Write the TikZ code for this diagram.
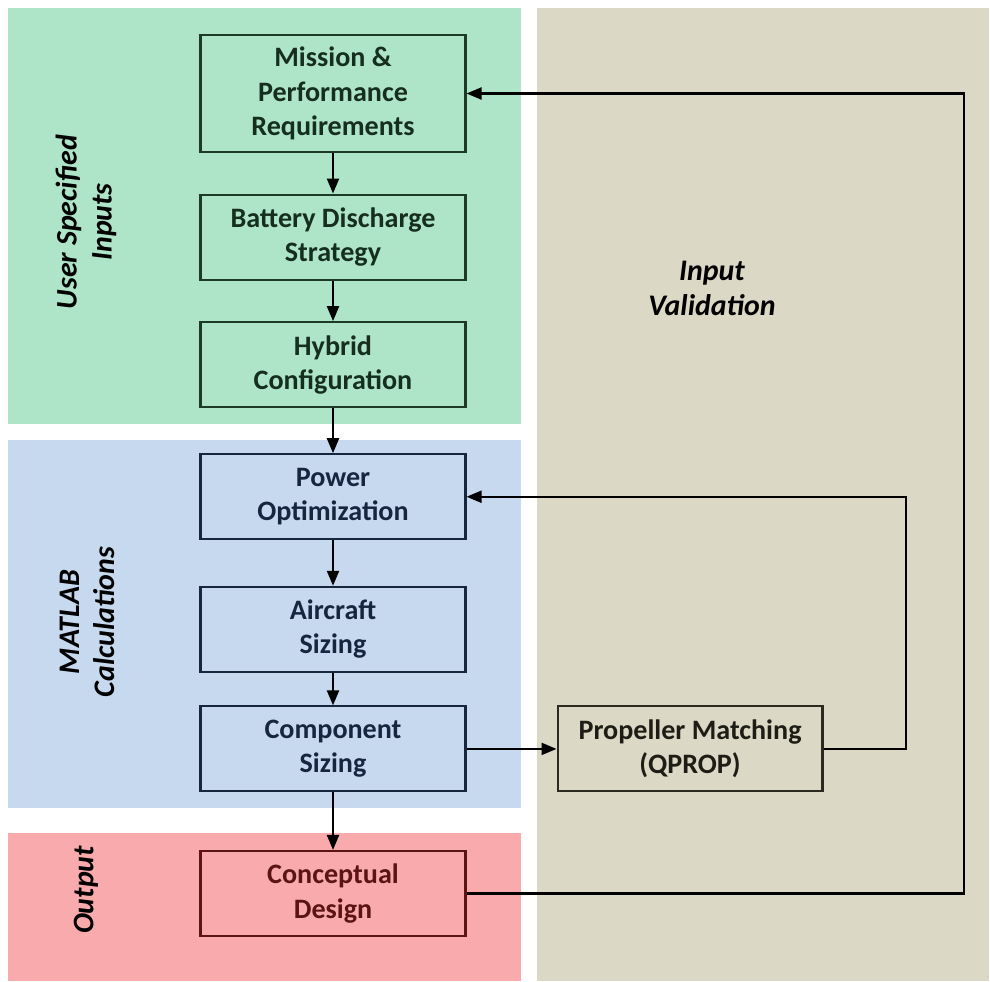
\documentclass[tikz,border=0pt]{standalone}
\usepackage{fontspec}
\setmainfont{Carlito}
\usetikzlibrary{positioning,arrows.meta}

\definecolor{inputgreen}{HTML}{AEE5C8}
\definecolor{calcblue}{HTML}{C6D9EF}
\definecolor{outpink}{HTML}{F9AAAC}
\definecolor{validgrey}{HTML}{DCD8C6}
\definecolor{greenline}{HTML}{1C3A24}
\definecolor{blueline}{HTML}{17263F}
\definecolor{pinkline}{HTML}{5A1414}
\definecolor{greyline}{HTML}{2A2A20}

\begin{document}
\begin{tikzpicture}[
    x=0.02cm, y=-0.02cm,
    block/.style={rectangle, draw, line width=1.2pt, minimum width=5.3cm,
        minimum height=1.7cm, align=center, font=\fontsize{16}{19.5}\selectfont\bfseries},
    greenbox/.style={block, draw=greenline, fill=inputgreen, text=greenline!80!black},
    bluebox/.style={block, draw=blueline, fill=calcblue, text=blueline},
    pinkbox/.style={block, draw=pinkline, fill=outpink, text=pinkline},
    greybox/.style={block, draw=greyline, fill=validgrey, text=greyline!70!black},
    zonelabel/.style={align=center, font=\fontsize{17}{20}\selectfont\bfseries\itshape},
    arrow/.style={draw, line width=1.2pt, -{Triangle[length=0.3cm,width=0.24cm]}},
    ]
    \useasboundingbox (0,0) rectangle (990,981);

    % background zones
    \fill[inputgreen] (8,8) rectangle (521,424);
    \fill[calcblue] (8,440) rectangle (521,808);
    \fill[outpink] (8,833) rectangle (521,981);
    \fill[validgrey] (537,8) rectangle (989,981);

    \node[zonelabel, rotate=90] (lblinputs) at (86,222) {User Specified\\Inputs};
    \node[zonelabel, rotate=90] (lblcalc) at (87,622) {MATLAB\\Calculations};
    \node[zonelabel, rotate=90] (lblout) at (86,890) {Output};
    \node[zonelabel] (lblvalid) at (712,288) {Input\\Validation};

    % main chain
    \node[greenbox, minimum height=2.34cm] (mission) at (333,93.5) {Mission \&\\Performance\\Requirements};
    \node[greenbox, below=0.81cm of mission] (battery) {Battery Discharge\\Strategy};
    \node[greenbox, below=0.81cm of battery] (hybrid) {Hybrid\\Configuration};
    \node[bluebox, below=0.9cm of hybrid] (power) {Power\\Optimization};
    \node[bluebox, below=0.91cm of power] (aircraft) {Aircraft\\Sizing};
    \node[bluebox, below=0.65cm of aircraft] (component) {Component\\Sizing};
    \node[pinkbox, below=1.15cm of component] (design) {Conceptual\\Design};
    \node[greybox, right=1.8cm of component] (prop) {Propeller Matching\\(QPROP)};

    \coordinate (loopA) at (964,0);
    \coordinate (loopB) at (906,0);

    \draw[arrow] (mission) -- (battery);
    \draw[arrow] (battery) -- (hybrid);
    \draw[arrow] (hybrid) -- (power);
    \draw[arrow] (power) -- (aircraft);
    \draw[arrow] (aircraft) -- (component);
    \draw[arrow] (component) -- (design);
    \draw[arrow] (component) -- (prop);

    % feedback loops
    \draw[arrow] (prop.east) -| (loopB |- power.east) -- (power.east);
    \draw[arrow] (design.east) -| (loopA |- mission.east) -- (mission.east);

  \end{tikzpicture}
\end{document}
